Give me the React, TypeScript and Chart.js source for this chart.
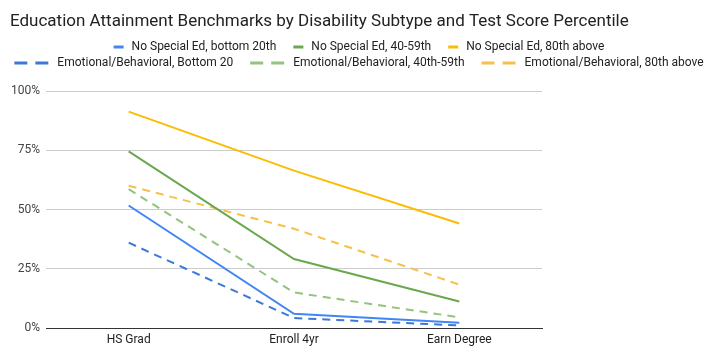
import React, { useEffect, useRef } from "react";
import { Chart, registerables } from "chart.js";

Chart.register(...registerables);

const titleText = "Education Attainment Benchmarks by Disability Subtype and Test Score Percentile";
const categories = ["HS Grad", "Enroll 4yr", "Earn Degree"];
const yTickValues = [0, 25, 50, 75, 100];

const seriesNames = [
  "No Special Ed, bottom 20th",
  "No Special Ed, 40-59th",
  "No Special Ed, 80th above",
  "Emotional/Behavioral, Bottom 20",
  "Emotional/Behavioral, 40th-59th",
  "Emotional/Behavioral, 80th above",
];
const noSpecialBottom20 = [51.7, 6.0, 2.2];
const noSpecial40to59 = [74.5, 29.1, 11.2];
const noSpecial80Above = [91.3, 66.4, 44.1];
const emoBottom20 = [36.0, 4.2, 1.1];
const emo40to59 = [58.6, 15.0, 4.5];
const emo80Above = [60.0, 41.9, 18.3];

const seriesValues = [noSpecialBottom20, noSpecial40to59, noSpecial80Above, emoBottom20, emo40to59, emo80Above];
const seriesColors = ["#4285f4", "#6aa84f", "#fbbc04", "#3c78d8", "#93c47d", "#f6c14b"];
const seriesDashed = [false, false, false, true, true, true];

const FONT = "Roboto, sans-serif";

const customHeader = {
  id: "customHeader",
  afterDraw(chart: any) {
    const ctx = chart.ctx as CanvasRenderingContext2D;
    ctx.save();
    // title
    ctx.font = `17px ${FONT}`;
    ctx.fillStyle = "#222";
    ctx.textBaseline = "middle";
    ctx.textAlign = "left";
    ctx.fillText(titleText, 2, 13.5);

    // legend
    ctx.font = `12px ${FONT}`;
    const rows = [
      [0, 1, 2],
      [3, 4, 5],
    ];
    const rowY = [39, 55];
    const gapSampleText = 8;
    const gapItems = 17;
    rows.forEach((row, ri) => {
      const items = row.map((i) => {
        const ds = chart.data.datasets[i];
        const dashed = seriesDashed[i];
        const sw = dashed ? 35 : 10;
        const tw = ctx.measureText(ds.label).width;
        return { ds, dashed, sw, tw };
      });
      const total =
        items.reduce((a, it) => a + it.sw + gapSampleText + it.tw, 0) + gapItems * (items.length - 1);
      let x = chart.width / 2 - total / 2;
      const y = rowY[ri];
      items.forEach((it) => {
        ctx.strokeStyle = it.ds.borderColor;
        ctx.lineWidth = 3;
        ctx.lineCap = "butt";
        ctx.setLineDash(it.dashed ? [13, 8] : []);
        ctx.beginPath();
        ctx.moveTo(x, y);
        ctx.lineTo(x + it.sw, y);
        ctx.stroke();
        ctx.setLineDash([]);
        x += it.sw + gapSampleText;
        ctx.fillStyle = "#222";
        ctx.fillText(it.ds.label, x, y);
        x += it.tw + gapItems;
      });
    });
    ctx.restore();
  },
};

export default function App() {
  const canvasRef = useRef<HTMLCanvasElement | null>(null);

  useEffect(() => {
    if (!canvasRef.current) return;
    Chart.defaults.font.family = FONT;
    const chart = new Chart(canvasRef.current, {
      type: "line",
      data: {
        labels: categories,
        datasets: seriesNames.map((name, i) => ({
          label: name,
          data: seriesValues[i],
          borderColor: seriesColors[i],
          backgroundColor: seriesColors[i],
          borderWidth: 2,
          borderDash: seriesDashed[i] ? [8, 6] : [],
          pointRadius: 0,
          pointHoverRadius: 0,
          tension: 0,
          fill: false,
        })),
      },
      options: {
        animation: false,
        responsive: true,
        maintainAspectRatio: false,
        layout: { padding: { top: 83, right: 168, left: 0, bottom: 0 } },
        plugins: {
          legend: { display: false },
          title: { display: false },
          tooltip: { enabled: false },
        },
        scales: {
          x: {
            type: "category",
            offset: true,
            grid: { display: false, drawTicks: false },
            border: { display: true, color: "#333", width: 1 },
            ticks: { color: "#222", font: { size: 12, family: FONT }, padding: 5 },
            afterFit: (scale: any) => {
              scale.height = 26;
            },
          },
          y: {
            min: 0,
            max: 100,
            afterBuildTicks: (scale: any) => {
              scale.ticks = yTickValues.map((v) => ({ value: v }));
            },
            ticks: {
              color: "#444",
              font: { size: 12, family: FONT },
              padding: 6,
              callback: (v: any) => `${v}%`,
            },
            grid: { color: "#cccccc", drawTicks: false, lineWidth: 1 },
            border: { display: false },
            afterFit: (scale: any) => {
              scale.width = 38;
            },
          },
        },
      },
      plugins: [customHeader],
    });
    return () => chart.destroy();
  }, []);

  return (
    <div style={{ width: 702, height: 346, position: "relative" }}>
      <canvas ref={canvasRef} />
    </div>
  );
}
